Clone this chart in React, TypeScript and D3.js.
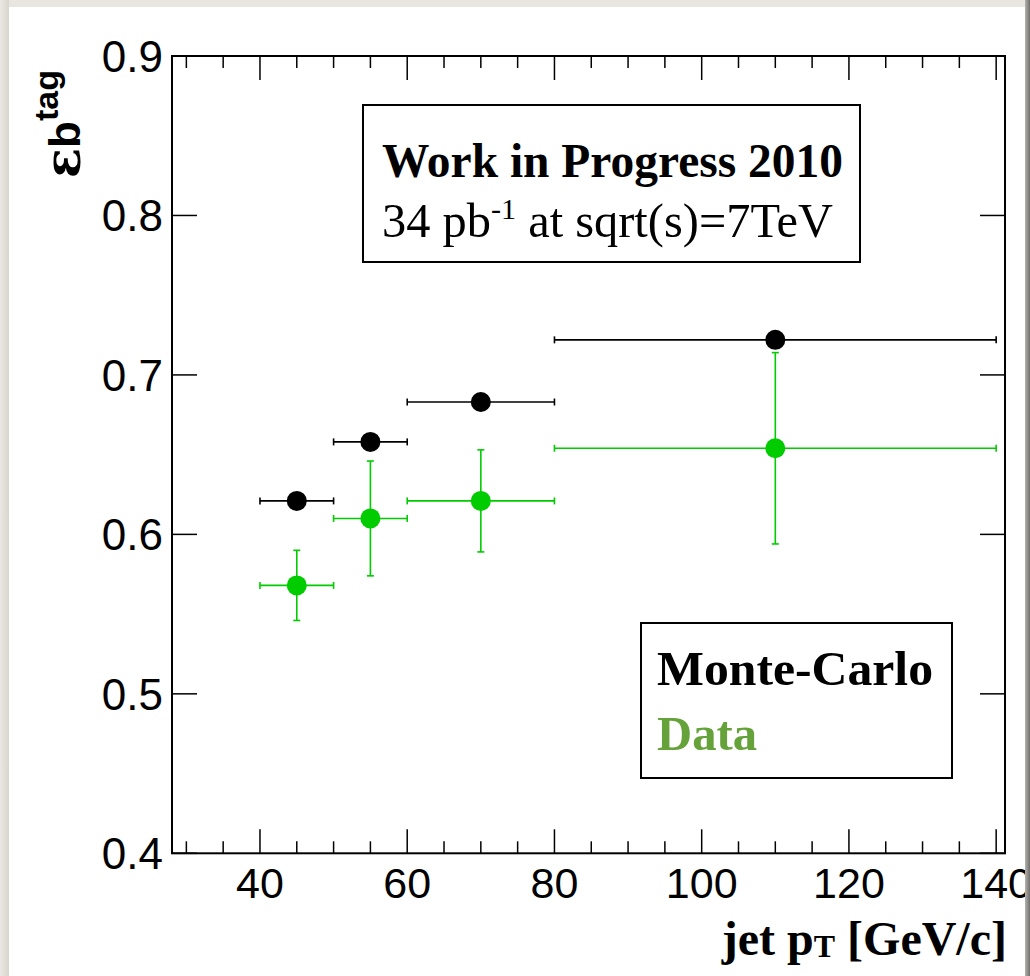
import * as d3 from "d3";

// jet pT bins
const binCenter = [45, 55, 70, 110];
const binLow = [40, 50, 60, 80];
const binHigh = [50, 60, 80, 140];

// b-tag efficiency
const mcEff = [0.621, 0.658, 0.683, 0.722];
const dataEff = [0.568, 0.610, 0.621, 0.654];
const dataErr = [0.022, 0.036, 0.032, 0.060];

const xMajorTicks = [40, 60, 80, 100, 120, 140];
const yMajorTicks = [0.4, 0.5, 0.6, 0.7, 0.8, 0.9];

const W = 1030;
const H = 976;

const App = () => {
  const margin = { left: 172, top: 56, right: 1005, bottom: 853.3 };

  const x = d3.scaleLinear().domain([28.05, 141.2]).range([margin.left, margin.right]);
  const y = d3.scaleLinear().domain([0.4, 0.9]).range([margin.bottom, margin.top]);

  const xMinor = d3.range(30, 141, 5).filter((v) => !xMajorTicks.includes(v));

  const green = "#00cc00";
  const cap = 3.5;
  const r = 10;
  const sans = "'Liberation Sans', Arial, sans-serif";
  const serif = "'Liberation Serif', 'Times New Roman', serif";

  const mcPts = binCenter.map((c, i) => ({ c, lo: binLow[i], hi: binHigh[i], v: mcEff[i] }));
  const dataPts = binCenter.map((c, i) => ({
    c,
    lo: binLow[i],
    hi: binHigh[i],
    v: dataEff[i],
    e: dataErr[i],
  }));

  return (
    <svg
      width={W}
      height={H}
      style={{ position: "absolute", left: 0, top: 0 }}
      xmlns="http://www.w3.org/2000/svg"
    >
      <defs>
        <linearGradient id="shadowR" x1="0" x2="1" y1="0" y2="0">
          <stop offset="0" stopColor="#b5b3ae" />
          <stop offset="1" stopColor="#6f6e6b" />
        </linearGradient>
        <linearGradient id="shadowL" x1="0" x2="1" y1="0" y2="0">
          <stop offset="0" stopColor="#ebe8e3" />
          <stop offset="1" stopColor="#d8d5cf" />
        </linearGradient>
      </defs>
      <rect x={0} y={0} width={W} height={H} fill="#e9e6e1" />
      <rect x={9} y={7} width={1016} height={H} fill="#ffffff" />

      {/* frame */}
      <rect
        x={margin.left}
        y={margin.top}
        width={margin.right - margin.left}
        height={margin.bottom - margin.top}
        fill="none"
        stroke="#000"
        strokeWidth={2}
      />

      {/* x ticks, bottom and top */}
      {xMajorTicks.map((t) => (
        <g key={"xM" + t}>
          <line x1={x(t)} x2={x(t)} y1={margin.bottom} y2={margin.bottom - 24} stroke="#000" strokeWidth={1.5} />
          <line x1={x(t)} x2={x(t)} y1={margin.top} y2={margin.top + 24} stroke="#000" strokeWidth={1.5} />
          <text x={x(t)} y={898} textAnchor="middle" fontFamily={sans} fontSize={43} fill="#000">
            {t}
          </text>
        </g>
      ))}
      {xMinor.map((t) => (
        <g key={"xm" + t}>
          <line x1={x(t)} x2={x(t)} y1={margin.bottom} y2={margin.bottom - 12} stroke="#000" strokeWidth={1.5} />
          <line x1={x(t)} x2={x(t)} y1={margin.top} y2={margin.top + 12} stroke="#000" strokeWidth={1.5} />
        </g>
      ))}

      {/* y ticks, left and right */}
      {yMajorTicks.map((t) => (
        <g key={"y" + t}>
          <line x1={margin.left} x2={margin.left + 25} y1={y(t)} y2={y(t)} stroke="#000" strokeWidth={1.5} />
          <line x1={margin.right} x2={margin.right - 25} y1={y(t)} y2={y(t)} stroke="#000" strokeWidth={1.5} />
          <text
            x={163}
            y={y(t)}
            dy="0.36em"
            textAnchor="end"
            fontFamily={sans}
            fontSize={44}
            fill="#000"
          >
            {t.toFixed(1)}
          </text>
        </g>
      ))}

      {/* y title */}
      <text transform="translate(80,70) rotate(-90)" textAnchor="end" fill="#000" fontWeight="bold">
        <tspan fontFamily="'DejaVu Serif', serif" fontSize={50}>ε</tspan>
        <tspan fontFamily={sans} fontSize={44}>b</tspan>
        <tspan fontFamily={sans} fontSize={34} dy={-22}>tag</tspan>
      </text>

      {/* x title */}
      <text
        x={1007}
        y={955}
        textAnchor="end"
        fontFamily={serif}
        fontWeight="bold"
        fontSize={48}
        fill="#000"
      >
        jet p<tspan fontSize={32} dy={2}>T</tspan>
        <tspan dy={-2}> [GeV/c]</tspan>
      </text>

      {/* MC: horizontal errors only */}
      {mcPts.map((d, i) => (
        <g key={"mc" + i}>
          <line x1={x(d.lo)} x2={x(d.hi)} y1={y(d.v)} y2={y(d.v)} stroke="#000" strokeWidth={1.6} />
          <line x1={x(d.lo)} x2={x(d.lo)} y1={y(d.v) - cap} y2={y(d.v) + cap} stroke="#000" strokeWidth={1.6} />
          <line x1={x(d.hi)} x2={x(d.hi)} y1={y(d.v) - cap} y2={y(d.v) + cap} stroke="#000" strokeWidth={1.6} />
        </g>
      ))}

      {/* Data errors */}
      {dataPts.map((d, i) => (
        <g key={"de" + i} stroke={green} strokeWidth={1.6}>
          <line x1={x(d.lo)} x2={x(d.hi)} y1={y(d.v)} y2={y(d.v)} />
          <line x1={x(d.lo)} x2={x(d.lo)} y1={y(d.v) - cap} y2={y(d.v) + cap} />
          <line x1={x(d.hi)} x2={x(d.hi)} y1={y(d.v) - cap} y2={y(d.v) + cap} />
          <line x1={x(d.c)} x2={x(d.c)} y1={y(d.v - d.e)} y2={y(d.v + d.e)} />
          <line x1={x(d.c) - cap} x2={x(d.c) + cap} y1={y(d.v + d.e)} y2={y(d.v + d.e)} />
          <line x1={x(d.c) - cap} x2={x(d.c) + cap} y1={y(d.v - d.e)} y2={y(d.v - d.e)} />
        </g>
      ))}

      {mcPts.map((d, i) => (
        <circle key={"mcp" + i} cx={x(d.c)} cy={y(d.v)} r={r} fill="#000" />
      ))}
      {dataPts.map((d, i) => (
        <circle key={"dp" + i} cx={x(d.c)} cy={y(d.v)} r={r} fill={green} />
      ))}

      {/* title box */}
      <rect x={363} y={105} width={497} height={157} fill="#fff" stroke="#000" strokeWidth={2} />
      <text
        x={382}
        y={177}
        fontFamily={serif}
        fontWeight="bold"
        fontSize={48}
        textLength={461}
        lengthAdjust="spacingAndGlyphs"
        fill="#000"
      >
        Work in Progress 2010
      </text>
      <text
        x={382}
        y={237}
        fontFamily={serif}
        fontSize={48}
        textLength={451}
        lengthAdjust="spacingAndGlyphs"
        fill="#000"
      >
        34 pb<tspan fontSize={30} dy={-18}>-1</tspan>
        <tspan dy={18}> at sqrt(s)=7TeV</tspan>
      </text>

      {/* legend */}
      <rect x={641} y={623} width={311} height={155} fill="#fff" stroke="#000" strokeWidth={2} />
      <text
        x={657}
        y={685}
        fontFamily={serif}
        fontWeight="bold"
        fontSize={49}
        textLength={276}
        lengthAdjust="spacingAndGlyphs"
        fill="#000"
      >
        Monte-Carlo
      </text>
      <text
        x={657}
        y={750}
        fontFamily={serif}
        fontWeight="bold"
        fontSize={49}
        textLength={100}
        lengthAdjust="spacingAndGlyphs"
        fill="#66a23a"
      >
        Data
      </text>

      {/* page shadow edges */}
      <rect x={0} y={0} width={9} height={H} fill="url(#shadowL)" />
      <rect x={1025} y={0} width={5} height={H} fill="url(#shadowR)" />
      <rect x={9} y={0} width={1016} height={7} fill="#e9e6e1" />
    </svg>
  );
};

export default App;
